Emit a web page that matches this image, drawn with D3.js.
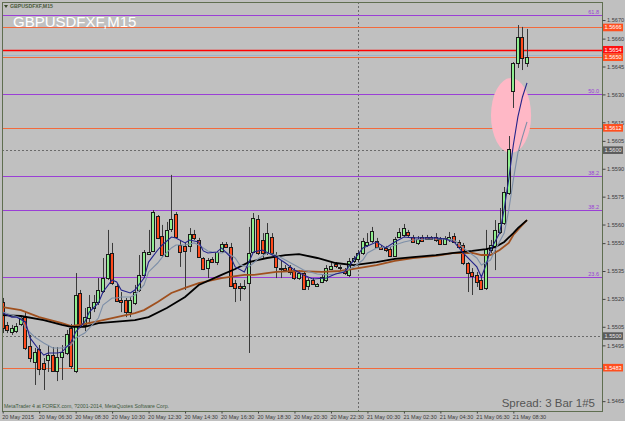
<!DOCTYPE html>
<html><head><meta charset="utf-8">
<script src="https://cdn.jsdelivr.net/npm/d3@7"></script>
<style>html,body{margin:0;padding:0;background:#c0c0c0;}svg{display:block;}</style>
</head><body>
<svg id="c" width="625" height="421"></svg>
<script>
// ---- DATA (GBPUSDFXF, M15, bar 0 = 20 May 2015 04:30) ----
const opens=[1.55183,1.55060,1.55022,1.55027,1.55065,1.55102,1.54947,1.54860,1.54930,1.54855,
1.54871,1.54898,1.54812,1.54887,1.54909,1.55043,1.54812,1.55232,1.55060,1.55097,
1.55151,1.55183,1.55242,1.55312,1.55447,1.55269,1.55194,1.55194,1.55129,1.55178,
1.55248,1.55329,1.55441,1.55458,1.55646,1.55538,1.55431,1.55576,1.55657,1.55490,
1.55485,1.55485,1.55549,1.55517,1.55420,1.55366,1.55415,1.55398,1.55458,1.55495,
1.55479,1.55285,1.55269,1.55259,1.55285,1.55452,1.55630,1.55517,1.55447,1.55533,
1.55436,1.55366,1.55366,1.55372,1.55350,1.55312,1.55339,1.55269,1.55302,1.55269,
1.55291,1.55302,1.55361,1.55388,1.55366,1.55355,1.55329,1.55404,1.55415,1.55447,
1.55490,1.55511,1.55511,1.55479,1.55474,1.55468,1.55431,1.55533,1.55544,1.55560,
1.55533,1.55501,1.55533,1.55533,1.55533,1.55533,1.55522,1.55495,1.55522,1.55538,
1.55506,1.55490,1.55393,1.55345,1.55329,1.55302,1.55259,1.55463,1.55485,1.55560,
1.55608,1.55770,1.56318,1.56469,1.56609,1.56469];
const highs=[1.55205,1.55076,1.55060,1.55070,1.55108,1.55129,1.55006,1.54936,1.54952,1.54882,
1.54952,1.54941,1.54941,1.54952,1.55033,1.55065,1.55339,1.55248,1.55151,1.55221,
1.55221,1.55312,1.55420,1.55571,1.55501,1.55285,1.55237,1.55205,1.55210,1.55275,
1.55436,1.55463,1.55571,1.55678,1.55651,1.55598,1.55614,1.55867,1.55667,1.55517,
1.55501,1.55581,1.55571,1.55528,1.55425,1.55420,1.55425,1.55458,1.55506,1.55506,
1.55501,1.55302,1.55285,1.55302,1.55587,1.55662,1.55651,1.55554,1.55608,1.55554,
1.55452,1.55409,1.55382,1.55382,1.55366,1.55355,1.55345,1.55312,1.55312,1.55285,
1.55329,1.55382,1.55398,1.55398,1.55382,1.55366,1.55420,1.55431,1.55463,1.55528,
1.55554,1.55587,1.55528,1.55490,1.55485,1.55479,1.55533,1.55581,1.55603,1.55571,
1.55544,1.55538,1.55544,1.55544,1.55538,1.55554,1.55533,1.55538,1.55560,1.55554,
1.55517,1.55501,1.55398,1.55366,1.55345,1.55318,1.55571,1.55517,1.55624,1.55689,
1.55802,1.56076,1.56474,1.56673,1.56663,1.56652];
const lows=[1.55016,1.55016,1.55006,1.55016,1.55054,1.54925,1.54860,1.54737,1.54790,1.54710,
1.54807,1.54807,1.54758,1.54764,1.54898,1.54823,1.54801,1.55043,1.55027,1.55076,
1.55129,1.55167,1.55232,1.55302,1.55275,1.55183,1.55129,1.55102,1.55102,1.55167,
1.55237,1.55312,1.55436,1.55452,1.55522,1.55425,1.55425,1.55560,1.55528,1.55372,
1.55248,1.55452,1.55517,1.55420,1.55355,1.55312,1.55393,1.55382,1.55447,1.55474,
1.55264,1.55183,1.55189,1.55248,1.54909,1.55447,1.55436,1.55420,1.55436,1.55436,
1.55312,1.55312,1.55345,1.55329,1.55302,1.55302,1.55248,1.55248,1.55275,1.55264,
1.55285,1.55291,1.55355,1.55366,1.55355,1.55329,1.55318,1.55393,1.55398,1.55436,
1.55479,1.55501,1.55474,1.55463,1.55452,1.55425,1.55425,1.55528,1.55533,1.55533,
1.55501,1.55490,1.55506,1.55517,1.55517,1.55506,1.55490,1.55490,1.55506,1.55501,
1.55474,1.55382,1.55237,1.55221,1.55264,1.55248,1.55248,1.55447,1.55355,1.55549,
1.55598,1.55759,1.56227,1.56442,1.56431,1.56448];
const closes=[1.55043,1.55033,1.55043,1.55054,1.55097,1.54936,1.54882,1.54914,1.54823,1.54823,
1.54898,1.54812,1.54887,1.54914,1.55011,1.54839,1.55221,1.55060,1.55102,1.55156,
1.55183,1.55248,1.55312,1.55441,1.55285,1.55189,1.55183,1.55129,1.55194,1.55237,
1.55329,1.55452,1.55452,1.55667,1.55528,1.55436,1.55571,1.55630,1.55533,1.55452,
1.55458,1.55549,1.55528,1.55425,1.55361,1.55409,1.55398,1.55452,1.55495,1.55479,
1.55269,1.55259,1.55259,1.55269,1.55447,1.55635,1.55447,1.55447,1.55554,1.55447,
1.55372,1.55361,1.55355,1.55345,1.55312,1.55339,1.55253,1.55302,1.55280,1.55280,
1.55318,1.55366,1.55377,1.55377,1.55372,1.55339,1.55404,1.55420,1.55447,1.55511,
1.55506,1.55565,1.55479,1.55468,1.55463,1.55431,1.55522,1.55560,1.55581,1.55544,
1.55506,1.55522,1.55511,1.55522,1.55522,1.55517,1.55495,1.55528,1.55533,1.55506,
1.55479,1.55393,1.55339,1.55323,1.55291,1.55253,1.55468,1.55490,1.55571,1.55608,
1.55775,1.56006,1.56469,1.56609,1.56496,1.56501];

// moving averages: [bar index, price]
const maFast=[[0,1.55124],[2,1.55102],[3,1.55102],[5,1.55076],[6,1.54990],[8,1.54925],[9,1.54898],[10,1.54909],[12,1.54909],[13,1.54914],[15,1.54968],[16,1.55022],[18,1.55076],[19,1.55129],[21,1.55178],[22,1.55237],[24,1.55302],[25,1.55291],[26,1.55248],[28,1.55232],[29,1.55248],[31,1.55312],[32,1.55398],[34,1.55463],[35,1.55490],[37,1.55533],[38,1.55528],[40,1.55501],[41,1.55517],[43,1.55506],[44,1.55458],[45,1.55447],[47,1.55452],[48,1.55474],[50,1.55425],[51,1.55372],[53,1.55345],[54,1.55398],[55,1.55452],[57,1.55463],[60,1.55425],[62,1.55393],[64,1.55355],[66,1.55329],[68,1.55307],[71,1.55312],[73,1.55334],[75,1.55345],[77,1.55409],[79,1.55474],[82,1.55506],[84,1.55474],[86,1.55506],[88,1.55533],[90,1.55528],[93,1.55528],[95,1.55528],[97,1.55522],[99,1.55506],[101,1.55447],[104,1.55372],[105,1.55318],[106,1.55382],[107,1.55463],[109,1.55554],[110,1.55684],[111,1.55845],[112,1.56028],[113,1.56179],[114,1.56286],[115,1.56362]];
const maMid=[[0,1.55129],[2,1.55113],[4,1.55097],[5,1.55043],[7,1.54995],[9,1.54963],[11,1.54936],[13,1.54936],[15,1.54952],[16,1.54990],[18,1.55016],[19,1.55043],[21,1.55097],[22,1.55167],[24,1.55205],[25,1.55205],[26,1.55210],[28,1.55210],[29,1.55221],[31,1.55275],[32,1.55345],[34,1.55393],[35,1.55425],[37,1.55474],[38,1.55490],[40,1.55490],[42,1.55501],[43,1.55490],[45,1.55458],[46,1.55452],[48,1.55447],[49,1.55452],[51,1.55420],[52,1.55382],[54,1.55372],[56,1.55415],[58,1.55447],[60,1.55436],[62,1.55409],[64,1.55382],[66,1.55355],[69,1.55334],[71,1.55329],[73,1.55334],[75,1.55350],[77,1.55372],[79,1.55409],[80,1.55447],[82,1.55474],[85,1.55479],[86,1.55490],[88,1.55506],[90,1.55517],[93,1.55522],[95,1.55522],[97,1.55522],[99,1.55517],[101,1.55474],[104,1.55420],[105,1.55382],[107,1.55409],[108,1.55463],[110,1.55554],[111,1.55678],[112,1.55840],[113,1.55985],[114,1.56071],[115,1.56152]];
const maSlowBrown=[[0,1.55156],[4,1.55140],[8,1.55102],[13,1.55070],[15,1.55054],[18,1.55065],[21,1.55081],[25,1.55102],[29,1.55124],[31,1.55140],[34,1.55183],[37,1.55232],[40,1.55259],[43,1.55285],[48,1.55312],[53,1.55329],[55,1.55329],[60,1.55345],[64,1.55350],[70,1.55345],[74,1.55350],[77,1.55361],[82,1.55382],[86,1.55404],[90,1.55420],[95,1.55431],[99,1.55447],[103,1.55447],[105,1.55436],[107,1.55436],[109,1.55463],[111,1.55501],[112,1.55544],[113,1.55571],[114,1.55598],[115,1.55624]];
const maSlowBlack=[[0,1.55113],[4,1.55108],[9,1.55086],[13,1.55060],[15,1.55049],[18,1.55049],[21,1.55070],[29,1.55086],[32,1.55102],[36,1.55151],[40,1.55210],[43,1.55275],[48,1.55329],[51,1.55361],[54,1.55398],[58,1.55420],[62,1.55436],[65,1.55441],[69,1.55420],[73,1.55393],[77,1.55382],[82,1.55398],[86,1.55415],[90,1.55425],[95,1.55436],[99,1.55447],[103,1.55458],[106,1.55468],[108,1.55479],[110,1.55506],[112,1.55554],[113,1.55581],[115,1.55624]];

const priceTicks=[1.5670,1.5660,1.5645,1.5630,1.5615,1.5605,1.5590,1.5575,1.5560,1.5550,1.5535,1.5520,1.5505,1.5495,1.5465];
const tickBars=[0,8,16,24,32,40,48,56,64,72,80,88,96,104,112];
const timeLabels=["20 May 2015","20 May 06:30","20 May 08:30","20 May 10:30","20 May 12:30","20 May 14:30","20 May 16:30","20 May 18:30","20 May 20:30","20 May 22:30","21 May 00:30","21 May 02:30","21 May 04:30","21 May 06:30","21 May 08:30"];
const fibPrices=[1.56727,1.5630,1.5586,1.5568,1.5532];
const fibLabels=["61.8","50.0","38.2","38.2","23.6"];
const orangeLevels=[1.5666,1.5650,1.5612,1.5483];
const redLevels=[1.5654];
const blueLevels=[1.56512];
const dottedLevels=[1.5600,1.5500];
const separatorBars=[78];
const tagPrices=[1.5666,1.5654,1.5650,1.5612,1.5600,1.5500,1.5483];
const tagKinds=["orange","red","orange","orange","gray","gray","orange"];
const ellipseBars=[107.1,115.9];
const ellipsePrices=[1.55985,1.56388];

// ---- DRAW ----
const svg=d3.select("#c");
const F={l:2,t:2,r:602,b:411};
const x=d3.scaleLinear().domain([-0.15,131.45]).range([F.l,F.r]);
const y=d3.scaleLinear().domain([1.54597,1.56797]).range([F.b,F.t]);
const FONT="'Liberation Sans', Arial, sans-serif";

svg.append("rect").attr("width",625).attr("height",421).attr("fill","#c0c0c0");
svg.append("defs").append("clipPath").attr("id","pc").append("rect")
  .attr("x",F.l).attr("y",F.t).attr("width",F.r-F.l).attr("height",F.b-F.t);
const g=svg.append("g").attr("clip-path","url(#pc)");

function hline(p,color,w,dash){
  const yy=Math.round(y(p))+0.5;
  g.append("line").attr("x1",F.l).attr("x2",F.r).attr("y1",yy).attr("y2",yy)
   .attr("stroke",color).attr("stroke-width",w).attr("stroke-dasharray",dash||null);
}
dottedLevels.forEach(p=>hline(p,"#6a6a6a",1,"2,2"));
separatorBars.forEach(b=>{
  const xx=Math.round(x(b))+0.5;
  g.append("line").attr("x1",xx).attr("x2",xx).attr("y1",F.t).attr("y2",F.b)
   .attr("stroke","#6a6a6a").attr("stroke-dasharray","2,2");
});
fibPrices.forEach((p,i)=>{
  hline(p,"#9a3fd6",1);
  g.append("text").attr("x",599).attr("y",Math.round(y(p))-1.5).attr("text-anchor","end")
   .attr("font-family",FONT).attr("font-size",5.5).attr("fill","#9a3fd6").text(fibLabels[i]);
});
blueLevels.forEach(p=>hline(p,"#9fb3cc",1));
orangeLevels.forEach(p=>hline(p,"#f26a3c",1));
redLevels.forEach(p=>hline(p,"#ff0000",1.4));

// annotation ellipse
g.append("ellipse")
  .attr("cx",(x(ellipseBars[0])+x(ellipseBars[1]))/2)
  .attr("cy",(y(ellipsePrices[0])+y(ellipsePrices[1]))/2)
  .attr("rx",(x(ellipseBars[1])-x(ellipseBars[0]))/2)
  .attr("ry",(y(ellipsePrices[0])-y(ellipsePrices[1]))/2)
  .attr("fill","#ffb8c6");

// candles
const idx=d3.range(opens.length);
const cg=g.append("g");
idx.forEach(i=>{
  const cx=Math.round(x(i));
  cg.append("line").attr("x1",cx+0.5).attr("x2",cx+0.5)
    .attr("y1",y(highs[i])).attr("y2",y(lows[i])).attr("stroke","#3a3a3a").attr("stroke-width",1);
  const up=closes[i]>=opens[i];
  const top=Math.round(y(Math.max(opens[i],closes[i])));
  const bot=Math.round(y(Math.min(opens[i],closes[i])));
  cg.append("rect").attr("x",cx-1.5).attr("y",top+0.5).attr("width",3)
    .attr("height",Math.max(1,bot-top))
    .attr("fill",up?"#8fef8f":"#ff4a1c").attr("stroke","#1a1a1a").attr("stroke-width",1);
});

// moving averages
const line=d3.line().x(d=>x(d[0])).y(d=>y(d[1]));
g.append("path").datum(maSlowBrown).attr("d",line).attr("fill","none").attr("stroke","#a0501e").attr("stroke-width",1.8);
g.append("path").datum(maSlowBlack).attr("d",line).attr("fill","none").attr("stroke","#000").attr("stroke-width",1.8);
g.append("path").datum(maMid).attr("d",line).attr("fill","none").attr("stroke","#7d8fa8").attr("stroke-width",1.1);
g.append("path").datum(maFast).attr("d",line).attr("fill","none").attr("stroke","#23238a").attr("stroke-width",1.1);

// frame
svg.append("rect").attr("x",F.l+0.5).attr("y",F.t+0.5).attr("width",F.r-F.l).attr("height",F.b-F.t)
  .attr("fill","none").attr("stroke","#5f6e50").attr("stroke-width",1);

// right price axis
const ya=d3.axisRight(y).tickValues(priceTicks).tickSize(3).tickFormat(d3.format(".4f"));
const yg=svg.append("g").attr("transform",`translate(${F.r+0.5},0)`).call(ya);
yg.select(".domain").remove();
yg.selectAll(".tick line").attr("stroke","#444");
yg.selectAll(".tick text").attr("font-family",FONT).attr("font-size",5.6).attr("fill","#3a3a3a").attr("x",4.5);

// price tags
tagPrices.forEach((p,i)=>{
  const yy=y(p);
  const k=tagKinds[i];
  const bg=k==="red"?"#ff1010":(k==="gray"?"#5c5c5c":"#ff4f1f");
  svg.append("rect").attr("x",603).attr("y",yy-3.8).attr("width",20).attr("height",7.6).attr("fill",bg);
  svg.append("text").attr("x",604.5).attr("y",yy+2).attr("font-family",FONT).attr("font-size",5.6)
    .attr("fill",k==="gray"?"#e8e8e8":"#ffffff").text(d3.format(".4f")(p));
});

// time axis
const xa=d3.axisBottom(x).tickValues(tickBars).tickSize(2).tickFormat((d,i)=>timeLabels[i]);
const xg=svg.append("g").attr("transform",`translate(0,${F.b+0.5})`).call(xa);
xg.select(".domain").remove();
xg.selectAll(".tick line").attr("stroke","#444");
xg.selectAll(".tick text").attr("font-family",FONT).attr("font-size",5.5).attr("fill","#3a3a3a")
  .attr("text-anchor","start").attr("dx",-1).attr("y",3.5);

// texts
svg.append("path").attr("d","M4,5 L8,5 L6,8 Z").attr("fill","#3a4a2a");
svg.append("text").attr("x",10).attr("y",8).attr("font-family",FONT).attr("font-size",5.2)
  .attr("font-weight","bold").attr("fill","#4a5a3a").text("GBPUSDFXF,M15");
svg.append("text").attr("x",13).attr("y",27).attr("font-family",FONT).attr("font-size",15)
  .attr("fill","#ffffff").text("GBPUSDFXF,M15");
svg.append("text").attr("x",4).attr("y",408).attr("font-family",FONT).attr("font-size",5.2)
  .attr("fill","#3e5a3e").text("MetaTrader 4 at FOREX.com, ?2001-2014, MetaQuotes Software Corp.");
svg.append("text").attr("x",595).attr("y",407).attr("text-anchor","end").attr("font-family",FONT)
  .attr("font-size",11.5).attr("fill","#555").text("Spread: 3 Bar 1#5");
</script>
</body></html>
